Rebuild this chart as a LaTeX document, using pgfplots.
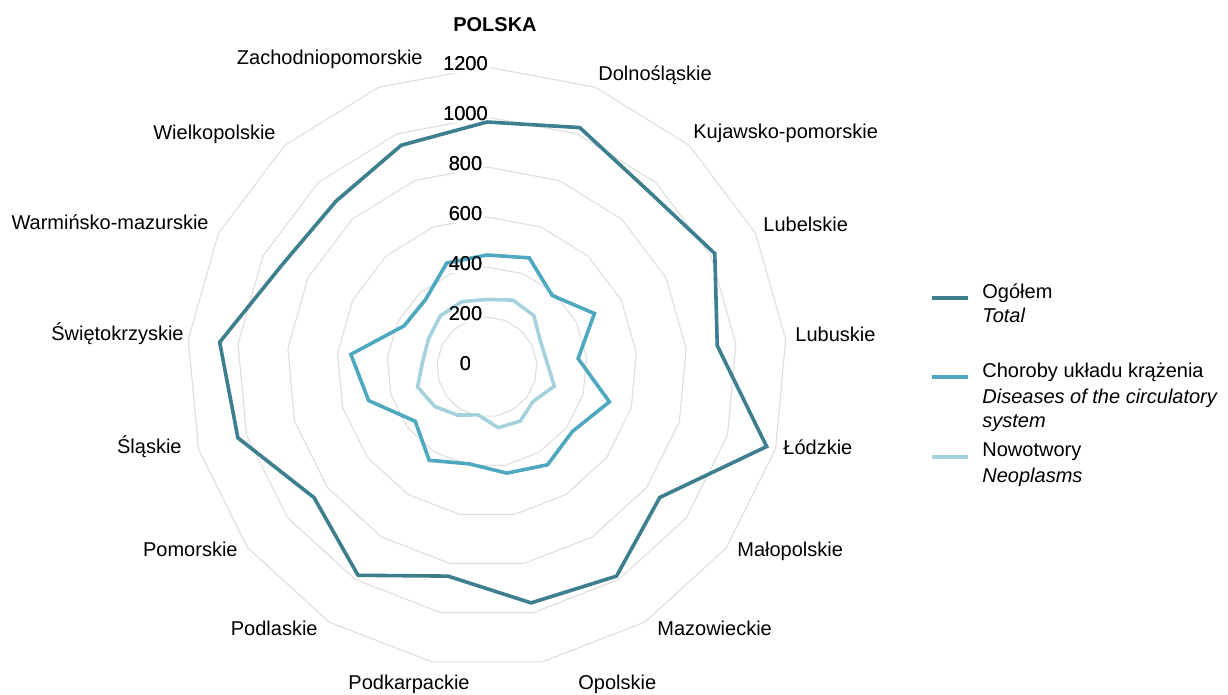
\documentclass[border=0pt]{standalone}
\usepackage{pgfplots}
\pgfplotsset{compat=1.18}
\usepackage{pgfplotstable}
\usepgfplotslibrary{polar}
\usepackage{fontspec}
\setmainfont{Liberation Sans}
\definecolor{ctotal}{HTML}{3D7F8E}
\definecolor{ccirc}{HTML}{4EA8BF}
\definecolor{cneo}{HTML}{A6D2DE}
\definecolor{cgrid}{HTML}{E0E0E0}
\tikzset{tlab/.style={fill=white, inner sep=1pt, font=\fontsize{10}{12}\selectfont},
         tlabt/.style={inner sep=1pt, font=\fontsize{10}{12}\selectfont}}
\pgfplotsset{gridline/.style={data cs=polar, cgrid, line width=0.6pt, no markers}}
\pgfplotstableread{
angle total circ neo g2 g4 g6 g8 g10 g12
90 980 448 270 200 400 600 800 1000 1200
68.824 1027 468 287 200 400 600 800 1000 1200
47.647 955 387 278 200 400 600 800 1000 1200
26.471 1018 480 238 200 400 600 800 1000 1200
5.294 925 366 240 200 400 600 800 1000 1200
-15.882 1163 509 280 200 400 600 800 1000 1200
-37.059 866 428 230 200 400 600 800 1000 1200
-58.235 984 460 254 200 400 600 800 1000 1200
-79.412 960 432 247 200 400 600 800 1000 1200
-100.588 851 394 195 200 400 600 800 1000 1200
-121.765 980 439 226 200 400 600 800 1000 1200
-142.941 867 360 262 200 400 600 800 1000 1200
-164.118 1036 492 289 200 400 600 800 1000 1200
-185.294 1074 547 258 200 400 600 800 1000 1200
-206.471 916 370 260 200 400 600 800 1000 1200
-227.647 897 365 277 200 400 600 800 1000 1200
-248.824 951 446 280 200 400 600 800 1000 1200
-270 980 448 270 200 400 600 800 1000 1200
}\data
\begin{document}
\begin{tikzpicture}[font=\fontsize{10}{12}\selectfont]
\useasboundingbox (0,0) rectangle (614pt,347.5pt);
\begin{axis}[hide axis, x=0.125pt, y=0.125pt,
  xmin=-1300, xmax=1300, ymin=-1300, ymax=1300,
  anchor=origin, at={(243.5pt,164pt)}, clip=false]
\addplot[gridline] table[x=angle, y=g2] {\data};
\addplot[gridline] table[x=angle, y=g4] {\data};
\addplot[gridline] table[x=angle, y=g6] {\data};
\addplot[gridline] table[x=angle, y=g8] {\data};
\addplot[gridline] table[x=angle, y=g10] {\data};
\addplot[gridline] table[x=angle, y=g12] {\data};
\node[tlab] at (axis cs:-86,14) {0};
\node[tlab] at (axis cs:-86,214) {200};
\node[tlab] at (axis cs:-86,414) {400};
\node[tlab] at (axis cs:-86,614) {600};
\node[tlab] at (axis cs:-86,814) {800};
\node[tlab] at (axis cs:-86,1014) {1000};
\node[tlab] at (axis cs:-86,1214) {1200};
\addplot[data cs=polar, cneo, line width=1.8pt, no markers] table[x=angle, y=neo] {\data};
\addplot[data cs=polar, ccirc, line width=1.8pt, no markers] table[x=angle, y=circ] {\data};
\addplot[data cs=polar, ctotal, line width=1.8pt, no markers] table[x=angle, y=total] {\data};
\node[tlabt] at (axis cs:-86,14) {0};
\node[tlabt] at (axis cs:-86,214) {200};
\node[tlabt] at (axis cs:-86,414) {400};
\node[tlabt] at (axis cs:-86,614) {600};
\node[tlabt] at (axis cs:-86,814) {800};
\node[tlabt] at (axis cs:-86,1014) {1000};
\node[tlabt] at (axis cs:-86,1214) {1200};
\end{axis}
% category labels
\node[anchor=base, inner sep=0, font=\fontsize{10}{12}\selectfont\bfseries] at (247.5pt,331.5pt) {POLSKA};
\begin{scope}[every node/.style={anchor=base west, inner sep=0}]
\node at (299pt,307pt) {Dolnośląskie};
\node at (346.5pt,278pt) {Kujawsko-pomorskie};
\node at (381.5pt,231.5pt) {Lubelskie};
\node at (397.5pt,176.5pt) {Lubuskie};
\node at (391.5pt,120pt) {Łódzkie};
\node at (368.5pt,69pt) {Małopolskie};
\node at (328.5pt,29.5pt) {Mazowieckie};
\node at (289pt,2.5pt) {Opolskie};
\end{scope}
\begin{scope}[every node/.style={anchor=base east, inner sep=0}]
\node at (211.5pt,315pt) {Zachodniopomorskie};
\node at (138pt,277.5pt) {Wielkopolskie};
\node at (104.5pt,232.5pt) {Warmińsko-mazurskie};
\node at (92pt,177pt) {Świętokrzyskie};
\node at (91pt,120.5pt) {Śląskie};
\node at (119pt,69pt) {Pomorskie};
\node at (159pt,29.5pt) {Podlaskie};
\node at (235pt,2.5pt) {Podkarpackie};
\end{scope}
% legend
\draw[ctotal, line width=1.8pt] (466pt,198.5pt) -- (484pt,198.5pt);
\draw[ccirc, line width=1.8pt] (466pt,159pt) -- (484pt,159pt);
\draw[cneo, line width=1.8pt] (466pt,119pt) -- (484pt,119pt);
\begin{scope}[every node/.style={anchor=base west, inner sep=0}]
\node at (491pt,198pt) {Ogółem};
\node at (491pt,186pt) {\itshape Total};
\node at (491pt,158.5pt) {Choroby układu krążenia};
\node at (491pt,145.5pt) {\itshape Diseases of the circulatory};
\node at (491pt,133.5pt) {\itshape system};
\node at (491pt,119pt) {Nowotwory};
\node at (491pt,106pt) {\itshape Neoplasms};
\end{scope}
\end{tikzpicture}
\end{document}
